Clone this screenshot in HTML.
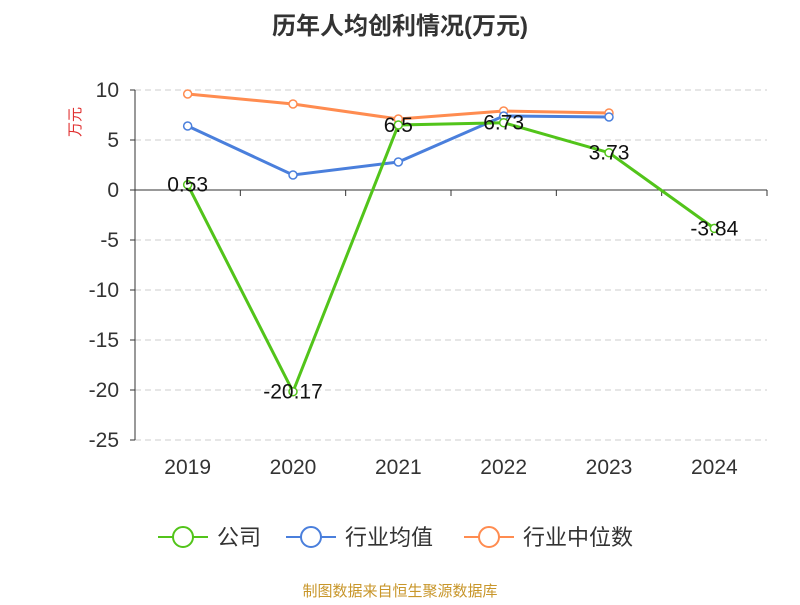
<!DOCTYPE html>
<html><head><meta charset="utf-8"><style>
body{margin:0;background:#fff;font-family:"Liberation Sans","Noto Sans CJK SC",sans-serif}
</style></head><body>
<svg id="c" width="800" height="600" xmlns="http://www.w3.org/2000/svg">
<text x="400" y="34" text-anchor="middle" font-size="24" font-weight="bold" fill="#333" font-family="Liberation Sans,Noto Sans CJK SC,sans-serif">历年人均创利情况(万元)</text>
<text transform="translate(80,122) rotate(-90)" text-anchor="middle" font-size="15" fill="#e03030" font-family="Liberation Sans,Noto Sans CJK SC,sans-serif">万元</text>
<g id="grid"></g><g id="axes"></g><g id="series"></g><g id="labels"></g>
<g font-size="22" fill="#333" font-family="Liberation Sans,Noto Sans CJK SC,sans-serif">
<g><line x1="158" y1="537" x2="208" y2="537" stroke="#52c41a" stroke-width="2"/><circle cx="183" cy="537" r="10" fill="#fff" stroke="#52c41a" stroke-width="2"/><text x="217" y="545">公司</text></g>
<g><line x1="286" y1="537" x2="336" y2="537" stroke="#4a7fdc" stroke-width="2"/><circle cx="311" cy="537" r="10" fill="#fff" stroke="#4a7fdc" stroke-width="2"/><text x="345" y="545">行业均值</text></g>
<g><line x1="464" y1="537" x2="514" y2="537" stroke="#ff8c50" stroke-width="2"/><circle cx="489" cy="537" r="10" fill="#fff" stroke="#ff8c50" stroke-width="2"/><text x="523" y="545">行业中位数</text></g>
</g>
<text x="400" y="596" text-anchor="middle" font-size="15" fill="#c8962a" font-family="Liberation Sans,Noto Sans CJK SC,sans-serif">制图数据来自恒生聚源数据库</text>
</svg>
<script>
const categories=["2019","2020","2021","2022","2023","2024"];
const companyValues=[0.53,-20.17,6.5,6.73,3.73,-3.84];
const industryAvg=[6.4,1.5,2.8,7.4,7.3];
const industryMedian=[9.6,8.6,7.1,7.9,7.7];
const yTicks=[10,5,0,-5,-10,-15,-20,-25];
const NS="http://www.w3.org/2000/svg";
const L=135,R=767,T=90,B=440,ymax=10,ymin=-25;
const bw=(R-L)/categories.length;
const x=i=>L+bw*(i+0.5);
const y=v=>T+(ymax-v)/(ymax-ymin)*(B-T);
function mk(tag,attrs,parent){const e=document.createElementNS(NS,tag);for(const k in attrs)e.setAttribute(k,attrs[k]);document.getElementById(parent).appendChild(e);return e;}
yTicks.forEach(t=>{
 if(t!==0){const g=mk("line",{x1:L,x2:R,y1:y(t),y2:y(t),stroke:"#ccc","stroke-dasharray":"6,4"},"grid");
 
 }
 const tk=mk("line",{x1:L-5,x2:L,y1:y(t),y2:y(t),stroke:"#333"},"axes");
 
 
 const tx=mk("text",{x:L-16,y:y(t)+7,"text-anchor":"end","font-size":"21",fill:"#333"},"axes");
 tx.textContent=t;
 
 
});
const ya=mk("line",{x1:L,x2:L,y1:T,y2:B,stroke:"#333"},"axes");


const xa=mk("line",{x1:L,x2:R,y1:y(0),y2:y(0),stroke:"#333"},"axes");


for(let i=0;i<=categories.length;i++){const t=mk("line",{x1:L+bw*i,x2:L+bw*i,y1:y(0),y2:y(0)+6,stroke:"#333"},"axes");
 
 }
categories.forEach((c,i)=>{const t=mk("text",{x:x(i),y:B+34,"text-anchor":"middle","font-size":"21",fill:"#333"},"axes");t.textContent=c;
 
 });
function series(vals,color,name){
 const p=mk("polyline",{points:vals.map((v,i)=>x(i)+","+y(v)).join(" "),fill:"none",stroke:color,"stroke-width":3},"series");
 
 
 vals.forEach((v,i)=>{const c=mk("circle",{cx:x(i),cy:y(v),r:4,fill:"#fff",stroke:color,"stroke-width":1.5},"series");
 
 });
}
series(industryMedian,"#ff8c50","industry-median");
series(industryAvg,"#4a7fdc","industry-avg");
series(companyValues,"#52c41a","company");
companyValues.forEach((v,i)=>{const t=mk("text",{x:x(i),y:y(v)+7,"text-anchor":"middle","font-size":"21",fill:"#111"},"labels");t.textContent=v;
 
 });
</script>
</body></html>
